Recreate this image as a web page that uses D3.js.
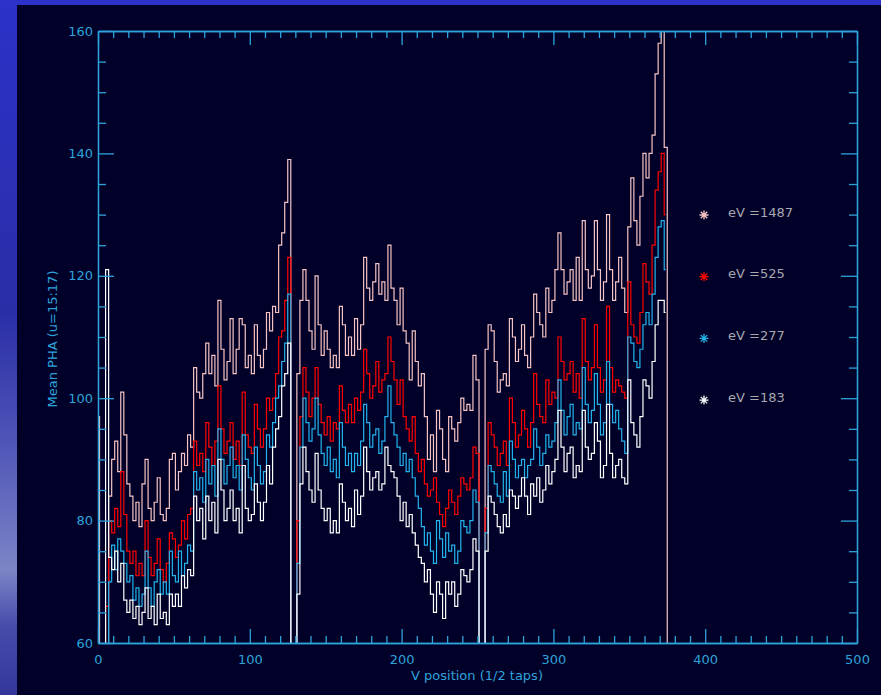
<!DOCTYPE html>
<html>
<head>
<meta charset="utf-8">
<script src="https://cdn.jsdelivr.net/npm/d3@7"></script>
<style>
  body { margin: 0; background: #000028; }
</style>
</head>
<body>
<script>
// bin positions, V position in 1/2 taps
var xPos = d3.range(0, 378, 2)

// mean PHA per bin, values under 60 are off the plot (0 = dropout)
var pha1487 = [
  97, 0, 0, 0, 84, 90, 93, 88, 101, 94,
  86, 84, 80, 83, 79, 86, 90, 82, 80, 83,
  87, 81, 80, 82, 90, 91, 85, 88, 91, 89,
  94, 92, 105, 101, 100, 104, 109, 104, 107, 102,
  116, 108, 103, 106, 113, 104, 108, 113, 112, 105,
  107, 104, 112, 107, 105, 108, 114, 111, 115, 114,
  125, 127, 132, 139, 0, 0, 104, 116, 121, 116,
  111, 108, 120, 112, 107, 111, 108, 105, 107, 105,
  115, 112, 107, 110, 107, 113, 108, 112, 123, 118,
  116, 119, 122, 117, 119, 116, 125, 118, 116, 112,
  118, 111, 109, 103, 111, 106, 102, 104, 97, 90,
  94, 88, 98, 95, 90, 88, 97, 95, 93, 96,
  100, 98, 99, 98, 107, 103, 0, 0, 108, 112,
  111, 106, 101, 103, 104, 102, 113, 110, 106, 108,
  112, 107, 105, 110, 117, 114, 112, 110, 118, 114,
  116, 121, 127, 121, 117, 119, 121, 116, 123, 116,
  129, 121, 118, 120, 129, 121, 116, 119, 130, 121,
  116, 119, 123, 118, 114, 128, 136, 129, 125, 133,
  140, 136, 140, 143, 153, 158, 160, 141, 0
]
var pha525 = [
  0, 0, 0, 66, 80, 78, 82, 79, 88, 81,
  75, 73, 75, 71, 73, 71, 80, 74, 71, 73,
  77, 72, 70, 73, 78, 77, 74, 76, 80, 77,
  81, 82, 93, 89, 91, 88, 96, 92, 89, 93,
  102, 95, 91, 93, 96, 90, 93, 89, 101, 94,
  92, 91, 99, 95, 92, 95, 100, 98, 100, 104,
  110, 111, 116, 123, 0, 0, 80, 97, 105, 101,
  97, 100, 105, 99, 96, 94, 97, 93, 96, 95,
  102, 98, 96, 99, 96, 100, 98, 101, 108, 104,
  100, 102, 106, 101, 103, 104, 110, 106, 103, 99,
  103, 97, 95, 93, 97, 91, 88, 90, 86, 84,
  85, 87, 83, 81, 79, 82, 85, 83, 81, 84,
  87, 86, 85, 87, 92, 91, 0, 0, 82, 96,
  94, 92, 89, 91, 93, 89, 100, 96, 92, 94,
  98, 95, 92, 96, 104, 99, 97, 96, 103, 99,
  101, 100, 110, 106, 103, 104, 106, 101, 104, 100,
  113, 106, 103, 105, 112, 105, 101, 103, 115, 105,
  101, 103, 102, 101, 100, 119, 112, 110, 109, 114,
  122, 119, 117, 125, 134, 137, 140, 130, null
]
var pha277 = [
  0, 0, 0, 0, 70, 76, 72, 77, 75, 73,
  70, 71, 67, 69, 66, 68, 75, 69, 66, 70,
  72, 68, 70, 68, 75, 71, 70, 75, 71, 73,
  76, 75, 88, 85, 87, 83, 90, 86, 89, 84,
  95, 90, 86, 89, 92, 87, 89, 85, 94, 90,
  87, 85, 92, 89, 86, 88, 94, 92, 96, 100,
  102, 106, 109, 117, 0, 0, 73, 92, 100, 96,
  93, 95, 100, 94, 91, 89, 92, 88, 90, 87,
  96, 92, 89, 91, 88, 91, 89, 93, 99, 96,
  92, 94, 95, 91, 93, 97, 102, 96, 94, 92,
  89, 91, 88, 90, 87, 84, 82, 79, 76, 78,
  75, 73, 80, 77, 74, 78, 75, 76, 73, 75,
  80, 79, 78, 80, 85, 83, 0, 0, 78, 89,
  88, 86, 84, 83, 88, 84, 93, 90, 87, 89,
  90, 87, 89, 90, 95, 92, 89, 91, 94, 92,
  93, 96, 103, 98, 94, 97, 99, 94, 96, 95,
  105, 99, 96, 98, 104, 99, 94, 96, 106, 99,
  96, 98, 95, 93, 91, 110, 109, 106, 105, 108,
  112, 114, 112, 117, 123, 128, 129, 121, null
]
var pha183 = [
  0, 0, 0, 121, 74, 72, 75, 70, 73, 67,
  65, 67, 64, 66, 63, 65, 69, 64, 66, 63,
  68, 64, 65, 63, 68, 66, 68, 66, 71, 69,
  72, 71, 84, 80, 82, 77, 84, 80, 83, 78,
  90, 85, 80, 82, 85, 80, 82, 78, 89, 82,
  80, 81, 86, 83, 80, 83, 89, 86, 92, 95,
  97, 102, 104, 109, 0, 0, 68, 86, 92, 88,
  85, 83, 91, 85, 82, 80, 82, 78, 80, 78,
  86, 83, 80, 82, 79, 85, 81, 84, 92, 88,
  85, 87, 88, 85, 86, 92, 89, 88, 87, 84,
  80, 83, 79, 81, 78, 76, 74, 73, 70, 72,
  68, 65, 70, 68, 64, 70, 68, 70, 66, 68,
  72, 71, 70, 72, 77, 75, 0, 0, 75, 84,
  83, 81, 79, 78, 81, 79, 85, 84, 82, 84,
  87, 84, 81, 86, 84, 87, 83, 85, 89, 86,
  88, 90, 98, 92, 88, 91, 92, 87, 89, 88,
  98, 92, 90, 91, 96, 93, 87, 89, 99, 91,
  87, 89, 90, 87, 86, 103, 96, 94, 92, 97,
  103, 102, 100, 106, 112, 116, 116, 114, null
]

var legendLabels = ["eV =1487", "eV =525", "eV =277", "eV =183"]
var seriesColors = ["#f6c4c4", "#ff0000", "#22b4ec", "#ffffff"]
var xTicks = [0, 100, 200, 300, 400, 500]
var yTicks = [60, 80, 100, 120, 140, 160]

var width = 881
var height = 695
var axisColor = "#2ea3db"
var font = "'DejaVu Sans', sans-serif"

var svg = d3.select("body").append("svg")
  .attr("width", width)
  .attr("height", height)

var defs = svg.append("defs")

// slide background: blue frame with a lighter streak on the left edge
var side = defs.append("linearGradient").attr("id", "side")
  .attr("x1", 0).attr("y1", 0).attr("x2", 0).attr("y2", 1)
var stops = [[0, "#2c31c9"], [0.45, "#2a2ea6"], [0.62, "#4b51b6"], [0.82, "#7d84c6"], [0.9, "#474cab"], [1, "#33369a"]]
stops.forEach(function(s) {
  side.append("stop").attr("offset", s[0]).attr("stop-color", s[1])
})

svg.append("rect").attr("width", width).attr("height", height).attr("fill", "#2c31c9")
svg.append("rect").attr("x", 0).attr("y", 0).attr("width", 17).attr("height", height).attr("fill", "url(#side)")
svg.append("rect").attr("x", 17).attr("y", 5).attr("width", width - 17).attr("height", height - 5).attr("fill", "#000028")

var x = d3.scaleLinear().domain([0, 500]).range([98, 857])
var y = d3.scaleLinear().domain([60, 160]).range([643, 31])

defs.append("clipPath").attr("id", "plot")
  .append("rect")
  .attr("x", x(0)).attr("y", y(160))
  .attr("width", x(500) - x(0)).attr("height", y(60) - y(160))

// series, histogram style steps
var series = [pha1487, pha525, pha277, pha183]
var line = d3.line()
  .defined(d => d[1] != null)
  .x(d => x(d[0]))
  .y(d => y(d[1]))
  .curve(d3.curveStep)

var g = svg.append("g").attr("clip-path", "url(#plot)")
g.selectAll("path")
  .data(series)
  .enter()
  .append("path")
  .attr("d", d => line(d.map((v, i) => [xPos[i], v])))
  .attr("fill", "none")
  .attr("stroke", (d, i) => seriesColors[i])
  .attr("stroke-width", 1.2)

// axes on all four sides, ticks pointing inwards
var xMinor = d3.range(0, 501, 10).filter(v => v % 100 != 0)
var yMinor = d3.range(60, 161, 5).filter(v => v % 20 != 0)

function styleAxis(a) {
  a.selectAll("path, line").attr("stroke", axisColor).attr("stroke-width", 1.3)
  a.selectAll("text").attr("fill", axisColor).style("font-family", font).style("font-size", "13px")
}

var bottomAxis = svg.append("g").attr("transform", "translate(0," + y(60) + ")")
bottomAxis.call(d3.axisBottom(x).tickValues(xTicks).tickSize(-14).tickSizeOuter(0).tickPadding(12).tickFormat(d3.format("d")))
bottomAxis.append("g").call(d3.axisBottom(x).tickValues(xMinor).tickSize(-7).tickSizeOuter(0).tickFormat(""))
styleAxis(bottomAxis)

var topAxis = svg.append("g").attr("transform", "translate(0," + y(160) + ")")
topAxis.call(d3.axisTop(x).tickValues(xTicks).tickSize(-14).tickSizeOuter(0).tickFormat(""))
topAxis.append("g").call(d3.axisTop(x).tickValues(xMinor).tickSize(-7).tickSizeOuter(0).tickFormat(""))
styleAxis(topAxis)

var leftAxis = svg.append("g").attr("transform", "translate(" + x(0) + ",0)")
leftAxis.call(d3.axisLeft(y).tickValues(yTicks).tickSize(-16).tickSizeOuter(0).tickPadding(5).tickFormat(d3.format("d")))
leftAxis.append("g").call(d3.axisLeft(y).tickValues(yMinor).tickSize(-8).tickSizeOuter(0).tickFormat(""))
styleAxis(leftAxis)

var rightAxis = svg.append("g").attr("transform", "translate(" + x(500) + ",0)")
rightAxis.call(d3.axisRight(y).tickValues(yTicks).tickSize(-16).tickSizeOuter(0).tickFormat(""))
rightAxis.append("g").call(d3.axisRight(y).tickValues(yMinor).tickSize(-8).tickSizeOuter(0).tickFormat(""))
styleAxis(rightAxis)

// axis titles
svg.append("text")
  .attr("x", 477).attr("y", 680)
  .attr("text-anchor", "middle")
  .attr("fill", axisColor)
  .style("font-family", font).style("font-size", "13px")
  .text("V position (1/2 taps)")

svg.append("text")
  .attr("transform", "translate(52,339) rotate(-90)")
  .attr("text-anchor", "middle")
  .attr("dy", "0.35em")
  .attr("fill", axisColor)
  .style("font-family", font).style("font-size", "13px")
  .text("Mean PHA (u=15:17)")

// legend with asterisk symbols
var legend = svg.append("g").attr("transform", "translate(704,215)")
var item = legend.selectAll("g")
  .data(legendLabels)
  .enter()
  .append("g")
  .attr("transform", (d, i) => "translate(0," + (i * 61.7) + ")")

var r = 4.5
var star = "M0," + (-r) + "V" + r + "M" + (-r) + ",0H" + r +
  "M" + (-r * 0.72) + "," + (-r * 0.72) + "L" + (r * 0.72) + "," + (r * 0.72) +
  "M" + (-r * 0.72) + "," + (r * 0.72) + "L" + (r * 0.72) + "," + (-r * 0.72)
item.append("path")
  .attr("d", star)
  .attr("fill", "none")
  .attr("stroke", (d, i) => seriesColors[i])
  .attr("stroke-width", 1.3)

item.append("text")
  .attr("x", 24).attr("y", -3)
  .attr("dy", "0.35em")
  .attr("fill", "#a8a8b0")
  .style("font-family", font).style("font-size", "13px")
  .text(d => d)
</script>
</body>
</html>
